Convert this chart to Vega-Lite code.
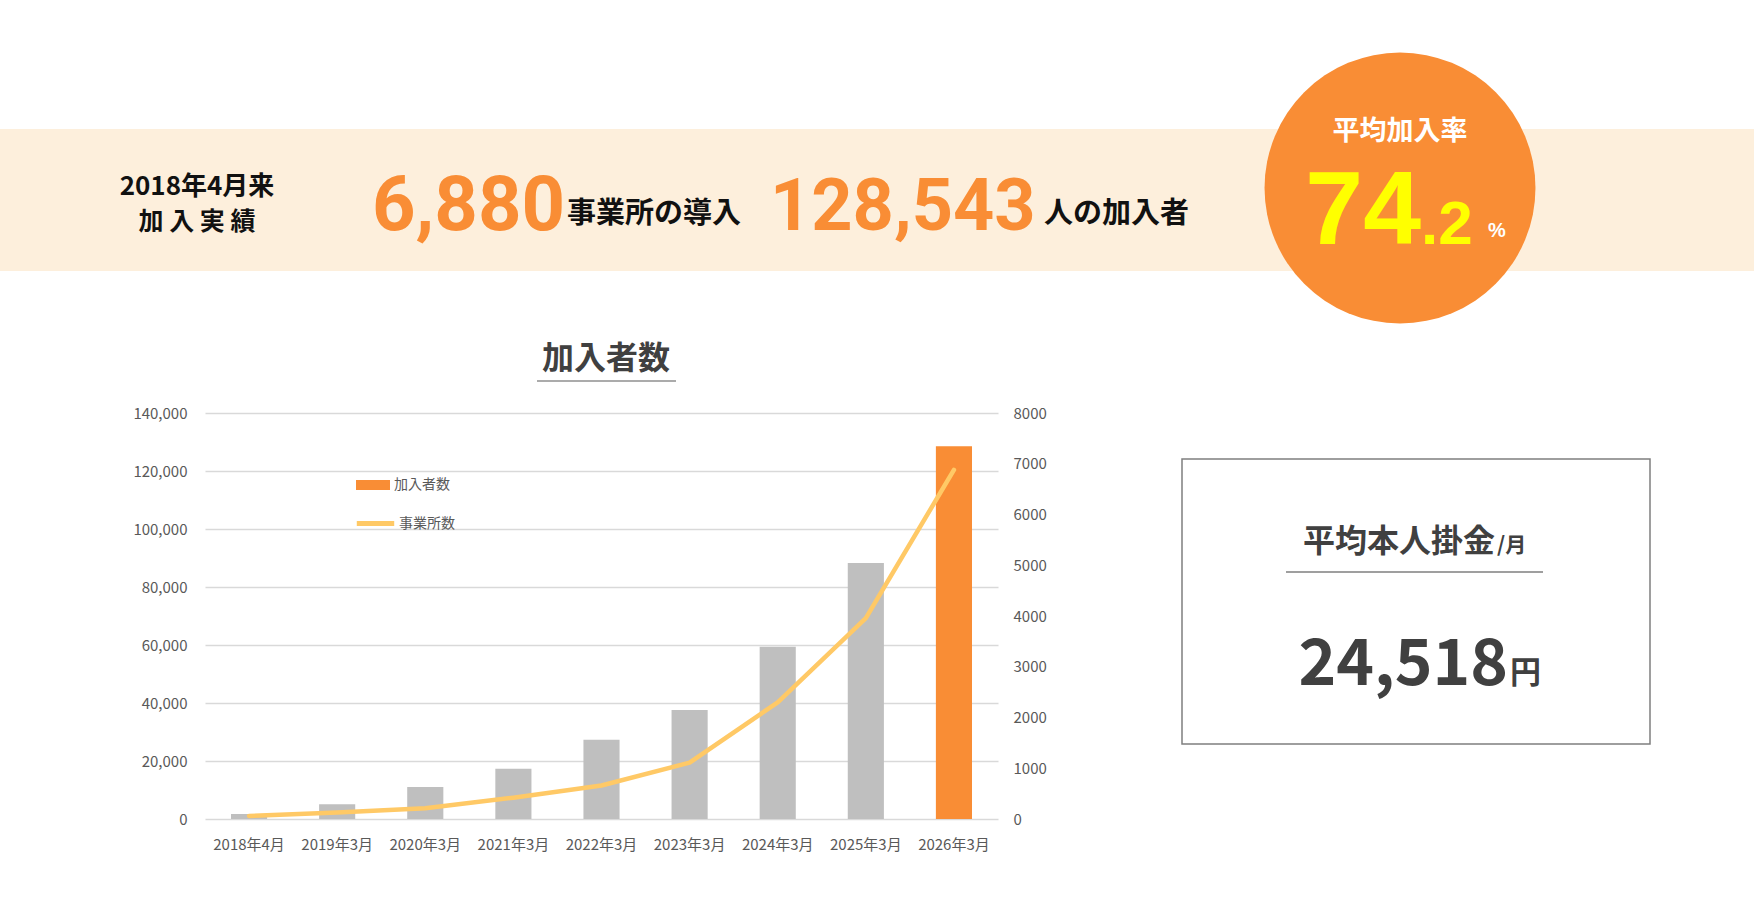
{
  "$schema": "https://vega.github.io/schema/vega-lite/v6.json",
  "description": "加入者数と事業所数の推移 (2018年4月来の加入実績)",
  "width": 793,
  "height": 406,
  "autosize": {"type": "none"},
  "padding": {"left": 205, "top": 413, "right": 756, "bottom": 81},
  "background": "white",
  "config": {
    "font": "Noto Sans CJK JP",
    "view": {"stroke": null},
    "legend": {"labelFontSize": 14, "labelColor": "#595959", "labelFont": "Noto Sans CJK JP"}
  },
  "data": {
    "values": [
      {"date": "2018年4月", "members": 1700, "offices": 60},
      {"date": "2019年3月", "members": 5100, "offices": 130},
      {"date": "2020年3月", "members": 11000, "offices": 210},
      {"date": "2021年3月", "members": 17300, "offices": 420},
      {"date": "2022年3月", "members": 27300, "offices": 660},
      {"date": "2023年3月", "members": 37600, "offices": 1110},
      {"date": "2024年3月", "members": 59400, "offices": 2300},
      {"date": "2025年3月", "members": 88300, "offices": 3960},
      {"date": "2026年3月", "members": 128543, "offices": 6880}
    ]
  },
  "layer": [
    {
      "data": {"values": [{}]},
      "mark": {"type": "rect", "x": -205, "x2": 1549, "y": -284, "y2": -142, "fill": "#FDEFDC"},
      "encoding": {}
    },
    {
      "data": {"values": [{}]},
      "mark": {"type": "point", "shape": "circle", "filled": true, "opacity": 1, "size": 73400, "x": 1195, "y": -225, "color": "#F98D35"},
      "encoding": {}
    },
    {
      "data": {"values": [{}]},
      "mark": {"type": "text", "text": "2018年4月来", "x": -8, "y": -218, "align": "center", "baseline": "alphabetic", "fontSize": 26, "fontWeight": "bold", "color": "#111111"},
      "encoding": {}
    },
    {
      "data": {"values": [{}]},
      "mark": {"type": "text", "text": "加 入 実 績", "x": -8, "y": -183, "align": "center", "baseline": "alphabetic", "fontSize": 25, "fontWeight": "bold", "color": "#111111"},
      "encoding": {}
    },
    {
      "data": {"values": [{}]},
      "mark": {"type": "text", "text": "6,880", "x": 167, "y": -183, "align": "left", "baseline": "alphabetic", "fontSize": 76, "fontWeight": "bold", "font": "Roboto", "color": "#F98D35"},
      "encoding": {}
    },
    {
      "data": {"values": [{}]},
      "mark": {"type": "text", "text": "事業所の導入", "x": 362, "y": -190, "align": "left", "baseline": "alphabetic", "fontSize": 29, "fontWeight": "bold", "color": "#111111"},
      "encoding": {}
    },
    {
      "data": {"values": [{}]},
      "mark": {"type": "text", "text": "128,543", "x": 565, "y": -183, "align": "left", "baseline": "alphabetic", "fontSize": 72, "fontWeight": "bold", "font": "Roboto", "color": "#F98D35"},
      "encoding": {}
    },
    {
      "data": {"values": [{}]},
      "mark": {"type": "text", "text": "人の加入者", "x": 839, "y": -190, "align": "left", "baseline": "alphabetic", "fontSize": 29, "fontWeight": "bold", "color": "#111111"},
      "encoding": {}
    },
    {
      "data": {"values": [{}]},
      "mark": {"type": "text", "text": "平均加入率", "x": 1195, "y": -273, "align": "center", "baseline": "alphabetic", "fontSize": 27, "fontWeight": "bold", "color": "#FFFFFF"},
      "encoding": {}
    },
    {
      "data": {"values": [{}]},
      "mark": {"type": "text", "text": "74", "x": 1216, "y": -169, "align": "right", "baseline": "alphabetic", "fontSize": 104, "fontWeight": "bold", "font": "Liberation Sans", "color": "#FFFF00"},
      "encoding": {}
    },
    {
      "data": {"values": [{}]},
      "mark": {"type": "text", "text": ".2", "x": 1216, "y": -169, "align": "left", "baseline": "alphabetic", "fontSize": 62, "fontWeight": "bold", "font": "Liberation Sans", "color": "#FFFF00"},
      "encoding": {}
    },
    {
      "data": {"values": [{}]},
      "mark": {"type": "text", "text": "%", "x": 1283, "y": -176, "align": "left", "baseline": "alphabetic", "fontSize": 20, "fontWeight": "bold", "font": "Liberation Sans", "color": "#FFFFFF"},
      "encoding": {}
    },
    {
      "data": {"values": [{}]},
      "mark": {"type": "text", "text": "加入者数", "x": 401, "y": -44, "align": "center", "baseline": "alphabetic", "fontSize": 32, "fontWeight": "bold", "color": "#404040"},
      "encoding": {}
    },
    {
      "data": {"values": [{}]},
      "mark": {"type": "rect", "x": 332, "x2": 471, "y": -32.6, "y2": -31.4, "fill": "#595959"},
      "encoding": {}
    },
    {
      "data": {"values": [{}]},
      "mark": {"type": "rect", "x": 977, "x2": 1445, "y": 46, "y2": 331, "fill": "#FFFFFF", "stroke": "#7F7F7F", "strokeWidth": 1.5},
      "encoding": {}
    },
    {
      "data": {"values": [{}]},
      "mark": {"type": "rect", "x": 1081, "x2": 1338, "y": 158.3, "y2": 159.7, "fill": "#7F7F7F"},
      "encoding": {}
    },
    {
      "data": {"values": [{}]},
      "mark": {"type": "text", "text": "平均本人掛金", "x": 1290, "y": 139, "align": "right", "baseline": "alphabetic", "fontSize": 32, "fontWeight": "bold", "color": "#404040"},
      "encoding": {}
    },
    {
      "data": {"values": [{}]},
      "mark": {"type": "text", "text": "/月", "x": 1292, "y": 139, "align": "left", "baseline": "alphabetic", "fontSize": 21, "fontWeight": "bold", "color": "#404040"},
      "encoding": {}
    },
    {
      "data": {"values": [{}]},
      "mark": {"type": "text", "text": "24,518", "x": 1303, "y": 272, "align": "right", "baseline": "alphabetic", "fontSize": 64, "fontWeight": "bold", "color": "#404040"},
      "encoding": {}
    },
    {
      "data": {"values": [{}]},
      "mark": {"type": "text", "text": "円", "x": 1305, "y": 270, "align": "left", "baseline": "alphabetic", "fontSize": 31, "fontWeight": "bold", "color": "#404040"},
      "encoding": {}
    },
    {
      "mark": {"type": "bar"},
      "encoding": {
        "x": {
          "field": "date", "type": "ordinal", "sort": null,
          "scale": {"paddingInner": 0.59, "paddingOuter": 0.295},
          "axis": {"title": null, "labelAngle": 0, "domain": false, "ticks": false, "labelPadding": 18, "labelFontSize": 15, "labelColor": "#595959"}
        },
        "y": {
          "field": "members", "type": "quantitative",
          "scale": {"domain": [0, 140000]},
          "axis": {"title": null, "values": [0, 20000, 40000, 60000, 80000, 100000, 120000, 140000], "format": ",.0f", "domain": false, "ticks": false, "gridColor": "#D9D9D9", "gridWidth": 1.5, "labelPadding": 18, "labelFontSize": 15, "labelColor": "#595959"}
        },
        "color": {
          "datum": "加入者数",
          "scale": {"range": ["#F98D35"]},
          "condition": {"test": "datum.date !== '2026年3月'", "value": "#BFBFBF"},
          "legend": {"title": null, "orient": "none", "legendX": 151, "legendY": 55, "symbolType": "M-1,-0.3H1V0.3H-1Z", "symbolSize": 1156, "symbolStrokeWidth": 0, "labelOffset": 4}
        }
      }
    },
    {
      "mark": {"type": "line", "strokeWidth": 4.5, "strokeCap": "round", "strokeJoin": "round"},
      "encoding": {
        "x": {"field": "date", "type": "ordinal", "sort": null},
        "y": {
          "field": "offices", "type": "quantitative",
          "scale": {"domain": [0, 8000]},
          "axis": {"title": null, "orient": "right", "values": [0, 1000, 2000, 3000, 4000, 5000, 6000, 7000, 8000], "format": "d", "grid": false, "domain": false, "ticks": false, "labelPadding": 15, "labelFontSize": 15, "labelColor": "#595959"}
        },
        "stroke": {
          "datum": "事業所数",
          "scale": {"range": ["#FFC966"]},
          "legend": {"title": null, "orient": "none", "legendX": 149, "legendY": 89, "symbolType": "stroke", "symbolSize": 1400, "symbolStrokeWidth": 5, "labelOffset": 2}
        }
      }
    }
  ],
  "resolve": {"scale": {"y": "independent"}}
}
